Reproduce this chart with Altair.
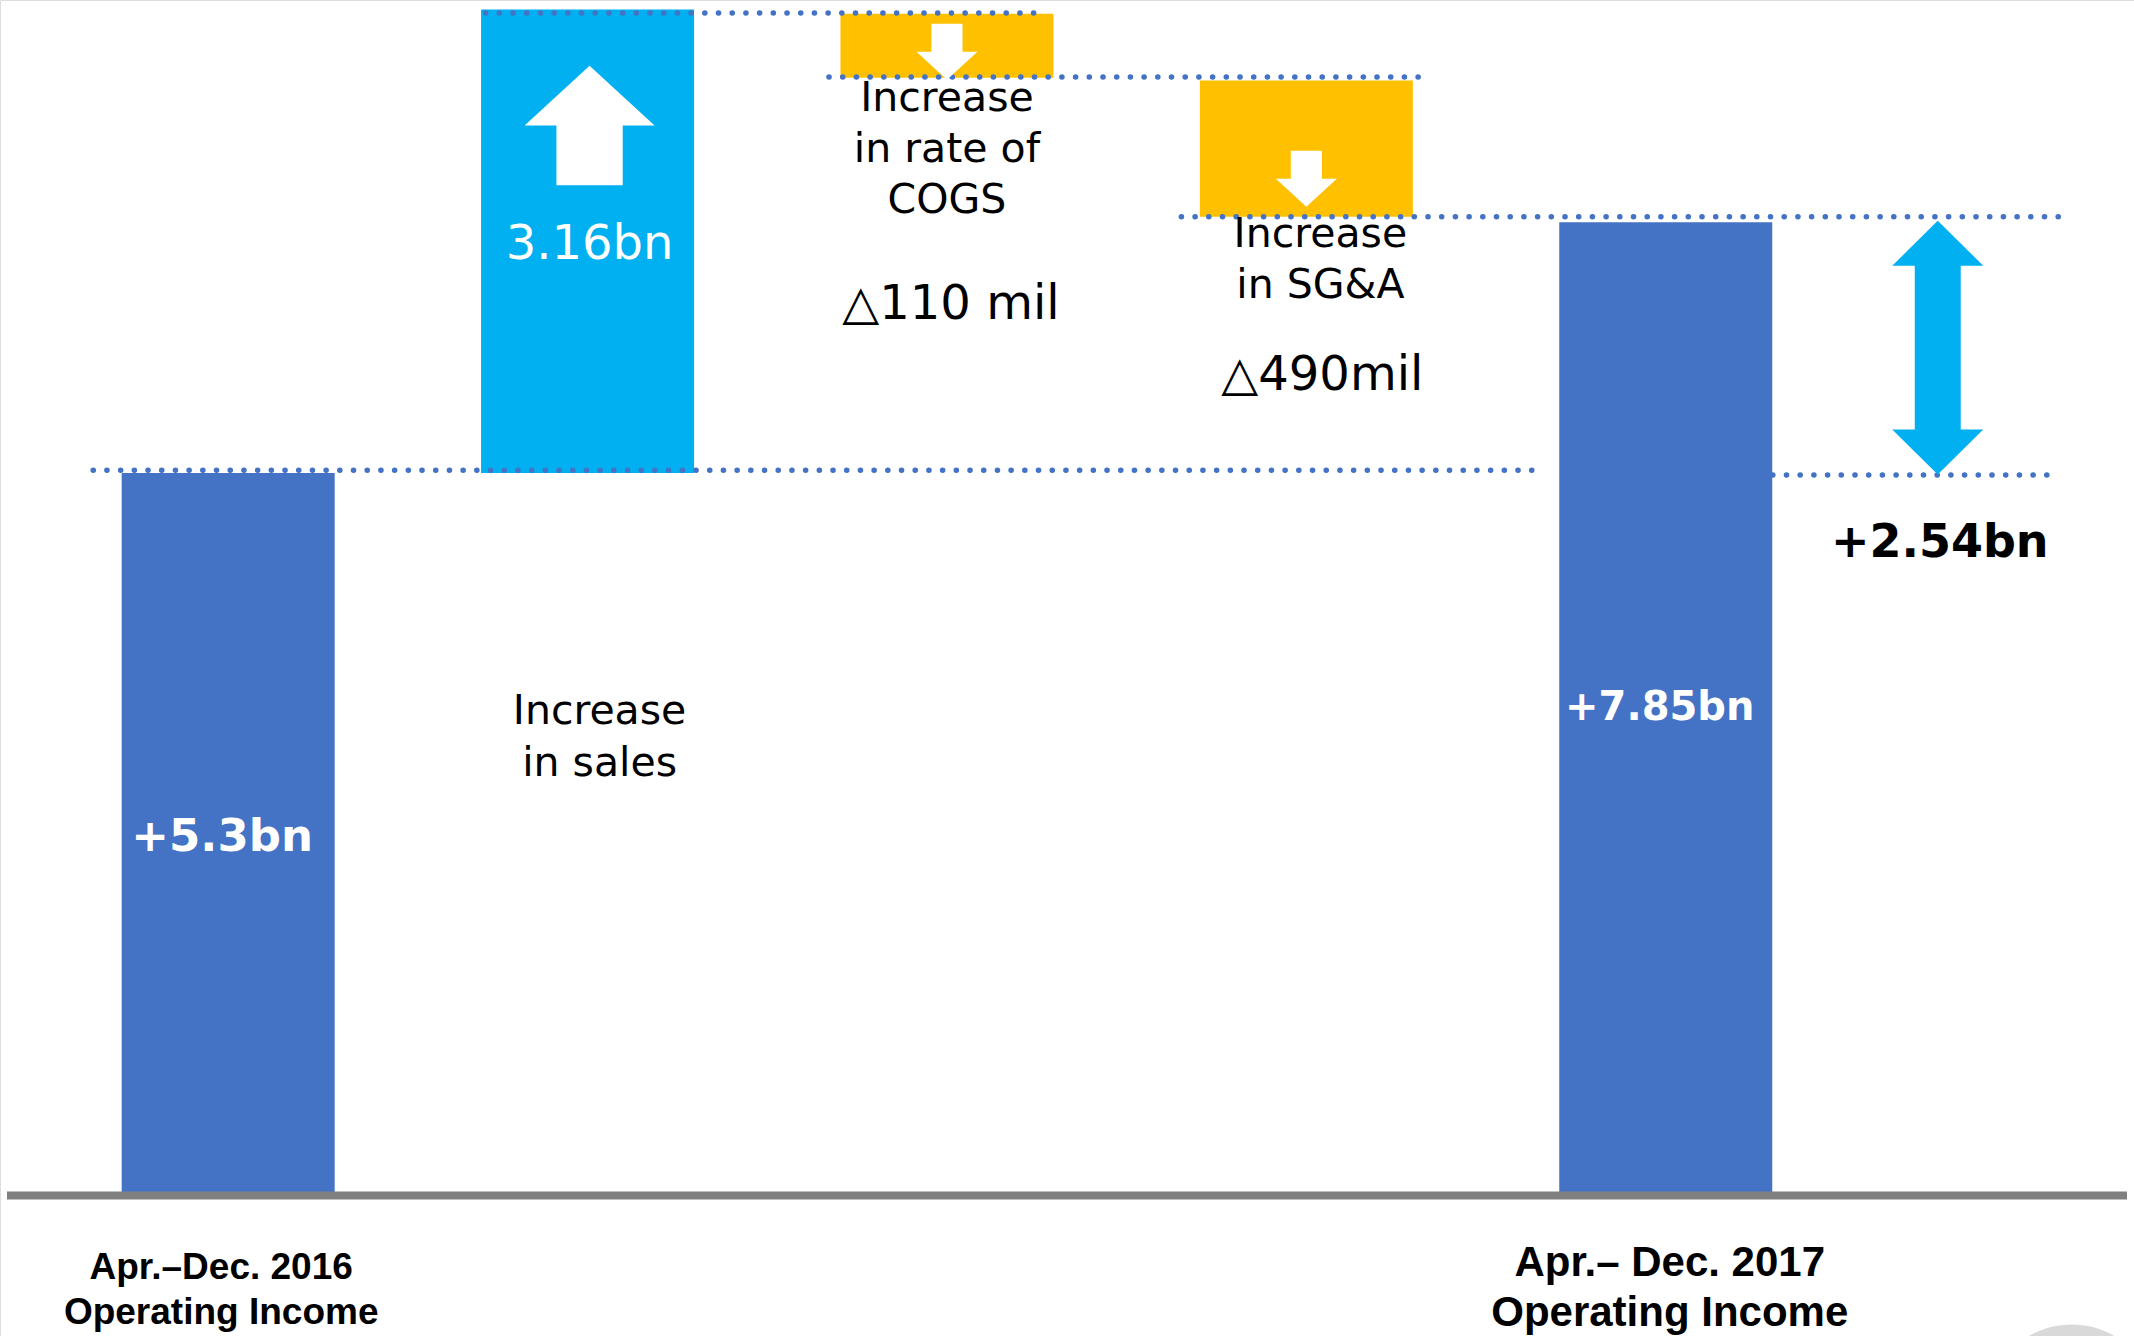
import altair as alt
import pandas as pd

# ---------------- data ----------------
categories = ["Apr.–Dec. 2016\nOperating Income", "Increase\nin sales",
              "Increase\nin rate of\nCOGS", "Increase\nin SG&A",
              "Apr.– Dec. 2017\nOperating Income"]
slots = [0, 1, 2, 3, 4]
kinds = ["total", "increase", "decrease", "decrease", "total"]
# bar extents as drawn on the slide (bn; the slide is schematic, not to scale)
bar_low = [0.0, 5.30, 8.20, 7.18, 0.0]
bar_high = [5.30, 8.70, 8.67, 8.18, 7.14]
value_labels = ["+5.3bn", "3.16bn", "△110 mil", "△490mil", "+7.85bn"]

# dotted connector lines: level and the bars they join
connector_levels = [8.675, 8.205, 7.18, 5.32, 5.285]
connector_from = [1, 2, 3, 0, 4]
connector_to = [2, 3, 4, 4, 4]

change_label = "+2.54bn"

# ---------------- styles ----------------
C_TOTAL, C_UP, C_DOWN = "#4472C4", "#00B0F0", "#FFC000"
DOT = "#4472C4"
FONT = "DejaVu Sans"
# pixel offsets of each connector's ends from its bars' centres
conn_offsets = [(-102, 100), (-118, 123), (-125, 402), (-135, -121), (107, 393)]

UP = "M0,-0.92 L1,0 L0.51,0 L0.51,0.92 L-0.51,0.92 L-0.51,0 L-1,0 Z"
DOWN = "M-0.51,-0.92 L0.51,-0.92 L0.51,0 L1,0 L0,0.92 L-1,0 L-0.51,0 Z"
DOUBLE = ("M0,-2.79 L1,-1.8 L0.505,-1.8 L0.505,1.8 L1,1.8 L0,2.79 "
          "L-1,1.8 L-0.505,1.8 L-0.505,-1.8 L-1,-1.8 Z")

XS = alt.Scale(domain=[-0.621, 5.289], nice=False, zero=False)
YS = alt.Scale(domain=[-1.03, 8.77], nice=False, zero=False)


def xe(f="slot"):
    return alt.X(f"{f}:Q", scale=XS, axis=None)


def ye(f):
    return alt.Y(f"{f}:Q", scale=YS, axis=None)


df = pd.DataFrame({
    "slot": slots, "cat": categories, "kind": kinds,
    "low": bar_low, "high": bar_high, "value": value_labels,
})
df["mid"] = (df["low"] + df["high"]) / 2
df["zero"] = 0.0


def row(i):
    return df[df["slot"] == i]


layers = []

# bars
layers.append(
    alt.Chart(df).mark_bar(width=213).encode(
        x=xe(), y=ye("low"), y2=alt.Y2("high:Q"),
        color=alt.Color("kind:N", legend=None,
                        scale=alt.Scale(domain=["total", "increase", "decrease"],
                                        range=[C_TOTAL, C_UP, C_DOWN])),
    )
)

# dotted connectors
for lvl, a, b, (oa, ob) in zip(connector_levels, connector_from, connector_to, conn_offsets):
    cdf = pd.DataFrame({"a": [a], "b": [b], "lvl": [lvl]})
    layers.append(
        alt.Chart(cdf).mark_rule(color=DOT, strokeWidth=5.5, strokeCap="round",
                                 strokeDash=[0.1, 13.6], xOffset=oa, x2Offset=ob).encode(
            x=xe("a"), x2=alt.X2("b:Q"), y=ye("lvl"))
    )

# baseline
layers.append(
    alt.Chart(pd.DataFrame({"z": [0.0]})).mark_rule(color="#808080", strokeWidth=8).encode(
        x=alt.value(7), x2=alt.value(2127), y=ye("z"))
)

# arrows inside the bars
layers.append(alt.Chart(row(1)).mark_point(shape=UP, size=130 ** 2, filled=True, fill="white",
                                           strokeWidth=0, opacity=1, yOffset=116, xOffset=2)
              .encode(x=xe(), y=ye("high")))
layers.append(alt.Chart(row(2)).mark_point(shape=DOWN, size=61 ** 2, filled=True, fill="white",
                                           strokeWidth=0, opacity=1, yOffset=-26)
              .encode(x=xe(), y=ye("low")))
layers.append(alt.Chart(row(3)).mark_point(shape=DOWN, size=61 ** 2, filled=True, fill="white",
                                           strokeWidth=0, opacity=1, yOffset=-38)
              .encode(x=xe(), y=ye("low")))


def text(data, field, yf, dx, dy, size, color="black", font=FONT, weight="normal", lh=None):
    kw = dict(align="center", baseline="middle", dx=dx, dy=dy, fontSize=size,
              color=color, font=font, fontWeight=weight, lineBreak="\n")
    if lh is not None:
        kw["lineHeight"] = lh
    return alt.Chart(data).mark_text(**kw).encode(x=xe(), y=ye(yf), text=f"{field}:N")


# values inside bars
layers.append(text(row(0), "value", "mid", -6, 3, 45, "white", weight="bold"))
layers.append(text(row(1), "value", "mid", 2, 4, 48, "white"))
layers.append(text(row(4), "value", "mid", -6, -1, 40, "white", weight="bold"))

# notes for the changes (first line placed at the anchor)
layers.append(text(row(1), "cat", "low", 12, 239, 41, lh=52))
layers.append(text(row(2), "cat", "low", 0, 21, 41, lh=51))
layers.append(text(row(2), "value", "low", 4, 227, 48))
layers.append(text(row(3), "cat", "low", 14, 18, 41, lh=51))
layers.append(text(row(3), "value", "low", 16, 159, 48))

# category labels under the baseline
layers.append(text(row(0), "cat", "zero", -7, 72, 37, font="Liberation Sans", weight="bold", lh=45))
layers.append(text(row(4), "cat", "zero", 4, 67, 42, font="Liberation Sans", weight="bold", lh=50))

# overall change
chg = pd.DataFrame({"slot": [4], "from": [bar_high[0]], "to": [bar_high[4]], "label": [change_label]})
chg["mid"] = (chg["from"] + chg["to"]) / 2
chg["zero"] = 0.0
layers.append(alt.Chart(chg).mark_point(shape=DOUBLE, size=91 ** 2, filled=True, fill=C_UP,
                                        strokeWidth=0, opacity=1, xOffset=272)
              .encode(x=xe(), y=ye("mid")))
layers.append(text(chg, "label", "from", 274, 70, 46, weight="bold"))

# slide-control circle peeking in at the bottom right corner
layers.append(alt.Chart(chg).mark_point(shape="circle", size=28950, filled=True, fill="#D9D9D9",
                                        strokeWidth=0, opacity=1, xOffset=406, yOffset=214)
              .encode(x=xe(), y=ye("zero")))

chart = alt.layer(*layers).properties(
    width=2134, height=1336, padding=0,
    autosize=alt.AutoSizeParams(type="none"),
).configure_view(strokeWidth=0).configure(background="white")

chart.save("out.html", embed_options={"renderer": "svg", "actions": False})
